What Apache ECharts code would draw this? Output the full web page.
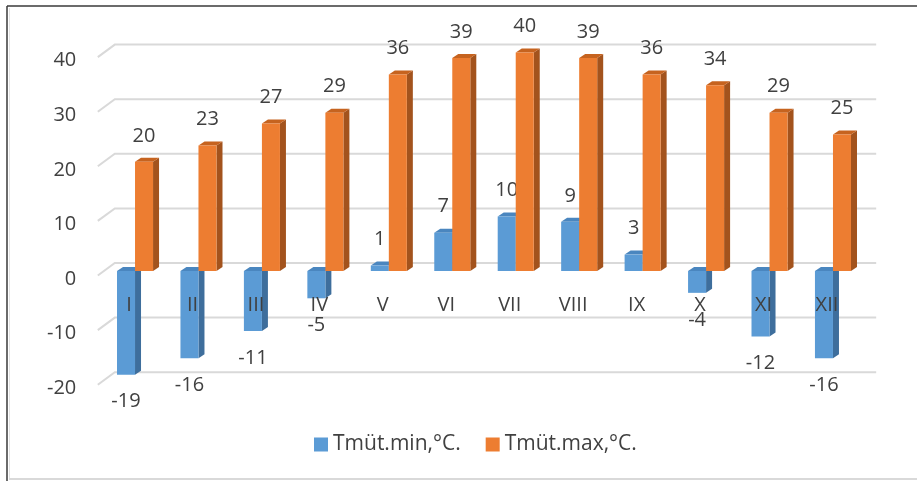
<!DOCTYPE html>
<html>
<head>
<meta charset="utf-8">
<script src="https://cdn.jsdelivr.net/npm/echarts@6/dist/echarts.min.js"></script>
<style>
  html, body { margin: 0; padding: 0; background: #fff; }
  #chart { width: 917px; height: 481px; }
</style>
</head>
<body>
<div id="chart"></div>
<script>
// Monthly mean minimum / maximum temperatures
const months = ['I', 'II', 'III', 'IV', 'V', 'VI', 'VII', 'VIII', 'IX', 'X', 'XI', 'XII'];
const tMin = [-19, -16, -11, -5, 1, 7, 10, 9, 3, -4, -12, -16];
const tMax = [20, 23, 27, 29, 36, 39, 40, 39, 36, 34, 29, 25];
const yTicks = [-20, -10, 0, 10, 20, 30, 40];
const seriesNames = ['Tmüt.min,°C.', 'Tmüt.max,°C.'];

const FONT = 'Open Sans';
const TEXT = '#404040';

// plot area (px)
const GRID = { left: 103.3, right: 52.3, top: 52.6, bottom: 100.8 };
const Y_MIN = -20, Y_MAX = 40;
// distance from the bottom edge of the plot up to the zero line
const zeroLift = (0 - Y_MIN) / (Y_MAX - Y_MIN) * (481 - GRID.top - GRID.bottom);

// face colours: front, side, top
const palette = {
  min: { front: '#5B9BD5', side: '#3E6E9C', top: '#4A86BF' },
  max: { front: '#ED7D31', side: '#A3531D', top: '#C6631F' }
};

// depth of the bar boxes and of the wall behind them
const DEPTH_X = 6, DEPTH_Y = 4;
const BACK_X = 11.5, BACK_Y = 8;
const FRONT_X = -5.5, FRONT_Y = 4.5;

function gridLineItem(params, api) {
  const y = api.coord([0, api.value(1)])[1];
  const cs = params.coordSys;
  const l = cs.x, r = cs.x + cs.width;
  return {
    type: 'polyline',
    shape: { points: [[l + FRONT_X, y + FRONT_Y], [l + BACK_X, y - BACK_Y], [r + BACK_X, y - BACK_Y]] },
    style: { stroke: '#D9D9D9', lineWidth: 2, fill: null }
  };
}

function barRenderer(side, colors) {
  return function (params, api) {
    const idx = api.value(0);
    const v = api.value(1);
    const band = api.size([1, 0])[0];
    const w = band * 0.284;
    const cx = api.coord([idx, 0])[0];
    const x0 = side < 0 ? cx - w : cx;
    const x1 = x0 + w;
    const yTop = api.coord([idx, Math.max(v, 0)])[1];
    const yBot = api.coord([idx, Math.min(v, 0)])[1];
    const labelY = v >= 0 ? yTop - 26 : yBot + 27;
    return {
      type: 'group',
      children: [
        {
          type: 'polygon',
          shape: { points: [[x1, yTop], [x1 + DEPTH_X, yTop - DEPTH_Y], [x1 + DEPTH_X, yBot - DEPTH_Y], [x1, yBot]] },
          style: { fill: colors.side }
        },
        {
          type: 'polygon',
          shape: { points: [[x0, yTop], [x0 + DEPTH_X, yTop - DEPTH_Y], [x1 + DEPTH_X, yTop - DEPTH_Y], [x1, yTop]] },
          style: { fill: colors.top }
        },
        {
          type: 'rect',
          shape: { x: x0, y: yTop, width: w, height: yBot - yTop },
          style: { fill: colors.front }
        },
        {
          type: 'text',
          x: (x0 + x1) / 2,
          y: labelY,
          style: {
            text: String(v), fill: TEXT, fontFamily: FONT, fontSize: 20,
            align: 'center', verticalAlign: 'middle'
          }
        }
      ]
    };
  };
}

const chart = echarts.init(document.getElementById('chart'), null, { renderer: 'canvas' });

chart.setOption({
  backgroundColor: '#ffffff',
  animation: false,
  textStyle: { fontFamily: FONT, color: TEXT },
  grid: GRID,
  legend: {
    data: seriesNames,
    left: 309,
    top: 429,
    itemWidth: 14,
    itemHeight: 14,
    itemGap: 25,
    icon: 'rect',
    textStyle: { fontFamily: FONT, fontSize: 21, color: TEXT }
  },
  xAxis: {
    type: 'category',
    data: months,
    offset: -zeroLift,
    z: 10,
    axisLine: { show: false, onZero: false },
    axisTick: { show: false },
    axisLabel: {
      fontFamily: FONT, fontSize: 20, color: TEXT, margin: 24,
      padding: [0, 12, 0, 0]
    }
  },
  yAxis: {
    type: 'value',
    min: Y_MIN,
    max: Y_MAX,
    interval: 10,
    splitLine: { show: false },
    axisLine: { show: false },
    axisTick: { show: false },
    axisLabel: {
      fontFamily: FONT, fontSize: 20, color: TEXT, margin: 27,
      verticalAlign: 'top', lineHeight: 16
    }
  },
  graphic: [
    { type: 'line', shape: { x1: 7, y1: 6, x2: 917, y2: 6 }, style: { stroke: '#3a3a3a', lineWidth: 1.5 } },
    { type: 'line', shape: { x1: 7, y1: 6, x2: 7, y2: 481 }, style: { stroke: '#3a3a3a', lineWidth: 1.5 } },
    { type: 'line', shape: { x1: 9.5, y1: 8, x2: 9.5, y2: 478 }, style: { stroke: '#E2E2E2', lineWidth: 1 } },
    { type: 'line', shape: { x1: 9, y1: 479, x2: 917, y2: 479 }, style: { stroke: '#D9D9D9', lineWidth: 2 } }
  ],
  series: [
    {
      type: 'custom',
      silent: true,
      z: 1,
      renderItem: gridLineItem,
      data: yTicks.map(v => [0, v])
    },
    {
      name: seriesNames[0],
      type: 'custom',
      z: 2,
      itemStyle: { color: palette.min.front },
      renderItem: barRenderer(-1, palette.min),
      data: tMin.map((v, i) => [i, v])
    },
    {
      name: seriesNames[1],
      type: 'custom',
      z: 3,
      itemStyle: { color: palette.max.front },
      renderItem: barRenderer(1, palette.max),
      data: tMax.map((v, i) => [i, v])
    }
  ]
});
</script>
</body>
</html>
